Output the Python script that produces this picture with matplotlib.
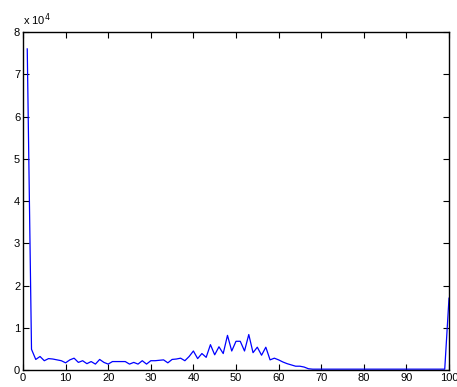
import numpy as np
import matplotlib
matplotlib.use('Agg')
import matplotlib.pyplot as plt
from matplotlib.ticker import FuncFormatter

plt.rcParams['font.family'] = ['Liberation Sans', 'DejaVu Sans']

# values, in units of 1e4
bins = np.arange(1, 101)
head = [7.6, 0.49, 0.25, 0.32, 0.22, 0.27, 0.26, 0.24, 0.22, 0.17,
        0.24, 0.28, 0.18, 0.22, 0.15, 0.20, 0.14, 0.25, 0.18, 0.14,
        0.20, 0.20, 0.20, 0.20, 0.14, 0.18, 0.14, 0.22, 0.14, 0.22,
        0.22, 0.23, 0.24, 0.17, 0.25, 0.26, 0.28, 0.22, 0.32, 0.45,
        0.27, 0.39, 0.30, 0.60, 0.36, 0.55, 0.39, 0.82, 0.45, 0.68,
        0.68, 0.45, 0.84, 0.41, 0.54, 0.35, 0.54, 0.24, 0.28, 0.24,
        0.19, 0.15, 0.12, 0.09, 0.09, 0.07, 0.03]
flat = [0.02] * 32
tail = [1.7]
counts = np.array(head + flat + tail) * 1e4

fig = plt.figure(figsize=(4.57, 3.87), dpi=100)
ax = fig.add_axes([0.0503, 0.0439, 0.9322, 0.8734])
ax.plot(bins, counts, color='blue', linewidth=0.9)

ax.set_xlim(0, 100)
ax.set_ylim(0, 8e4)
ax.set_xticks(np.arange(0, 101, 10))
ax.set_yticks(np.arange(0, 8.01e4, 1e4))
ax.yaxis.set_major_formatter(FuncFormatter(lambda v, p: '%d' % round(v / 1e4)))
ax.tick_params(direction='in', length=4, width=0.8, labelsize=8,
               top=True, right=True, pad=2)
for s in ax.spines.values():
    s.set_linewidth(1.0)
ax.text(0.0, 1.012, r'x 10$^{4}$', transform=ax.transAxes, fontsize=8,
        ha='left', va='bottom')

fig.savefig('out.png', dpi=100)
